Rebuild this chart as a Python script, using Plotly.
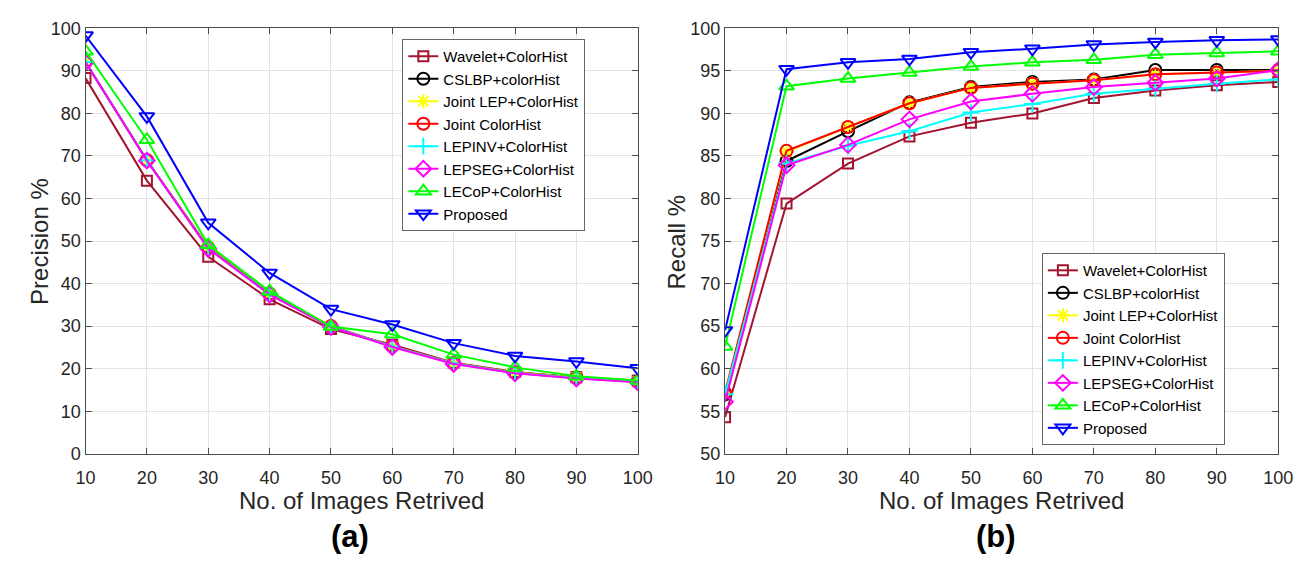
import plotly.graph_objects as go

# Number of retrieved images
n_images = [10, 20, 30, 40, 50, 60, 70, 80, 90, 100]

# Method names
methods = [
    "Wavelet+ColorHist",
    "CSLBP+colorHist",
    "Joint LEP+ColorHist",
    "Joint ColorHist",
    "LEPINV+ColorHist",
    "LEPSEG+ColorHist",
    "LECoP+ColorHist",
    "Proposed",
]

# Precision (%) per method
prec_wavelet = [88.3, 64.2, 46.3, 36.3, 29.3, 25.6, 21.4, 19.2, 18.0, 17.2]
prec_cslbp = [92.1, 69.0, 48.4, 37.6, 29.9, 25.3, 21.3, 19.1, 17.9, 17.0]
prec_jointlep = [92.1, 69.0, 48.5, 37.6, 30.0, 25.3, 21.3, 19.1, 17.9, 17.0]
prec_jointch = [92.1, 69.0, 48.5, 37.6, 30.0, 25.3, 21.3, 19.0, 17.8, 16.9]
prec_lepinv = [92.1, 69.0, 48.3, 37.5, 29.9, 25.2, 21.2, 19.0, 17.8, 16.9]
prec_lepseg = [92.0, 68.9, 48.2, 37.4, 29.8, 25.1, 21.1, 18.9, 17.7, 16.8]
prec_lecop = [94.6, 73.8, 49.1, 38.2, 29.9, 28.1, 23.3, 20.3, 18.2, 17.2]
prec_proposed = [98.3, 79.3, 54.3, 42.5, 34.0, 30.4, 26.0, 23.0, 21.7, 20.1]

# Recall (%) per method
rec_wavelet = [54.3, 79.4, 84.1, 87.3, 88.9, 90.0, 91.8, 92.7, 93.3, 93.7]
rec_cslbp = [57.0, 84.4, 87.9, 91.3, 93.1, 93.7, 94.0, 95.1, 95.1, 95.1]
rec_jointlep = [57.2, 85.5, 88.4, 91.2, 93.0, 93.5, 93.9, 94.6, 94.8, 95.0]
rec_jointch = [57.2, 85.6, 88.4, 91.2, 93.0, 93.5, 93.9, 94.6, 94.8, 95.0]
rec_lepinv = [57.0, 84.1, 86.2, 87.9, 90.1, 91.1, 92.3, 92.9, 93.5, 94.0]
rec_lepseg = [56.1, 83.9, 86.3, 89.3, 91.4, 92.3, 93.1, 93.6, 94.1, 95.1]
rec_lecop = [62.6, 93.2, 94.1, 94.8, 95.5, 96.0, 96.3, 96.9, 97.1, 97.3]
rec_proposed = [64.5, 95.2, 96.0, 96.4, 97.2, 97.6, 98.1, 98.4, 98.6, 98.7]

precision = [prec_wavelet, prec_cslbp, prec_jointlep, prec_jointch,
             prec_lepinv, prec_lepseg, prec_lecop, prec_proposed]
recall = [rec_wavelet, rec_cslbp, rec_jointlep, rec_jointch,
          rec_lepinv, rec_lepseg, rec_lecop, rec_proposed]

x_ticks = [10, 20, 30, 40, 50, 60, 70, 80, 90, 100]
prec_ticks = [0, 10, 20, 30, 40, 50, 60, 70, 80, 90, 100]
rec_ticks = [50, 55, 60, 65, 70, 75, 80, 85, 90, 95, 100]

# MATLAB-style line specs
colors = ["#A2142F", "#000000", "#FFFF00", "#FF0000",
          "#00FFFF", "#FF00FF", "#00FF00", "#0000FF"]
symbols = ["square-open", "circle-open", "asterisk-open", "circle-open",
           "cross-thin-open", "diamond-open", "triangle-up-open", "triangle-down-open"]
sizes = [10, 12, 12, 12, 12, 12, 13, 13]

FONT = "Liberation Sans, Arial, Helvetica, sans-serif"
W, H = 1307, 566

fig = go.Figure()

for i, name in enumerate(methods):
    for data, xa, ya, lg in ((precision[i], "x", "y", "legend"),
                             (recall[i], "x2", "y2", "legend2")):
        fig.add_trace(go.Scatter(
            x=n_images, y=data, name=name, xaxis=xa, yaxis=ya, legend=lg,
            mode="lines+markers",
            line=dict(color=colors[i], width=2),
            marker=dict(symbol=symbols[i], size=sizes[i], color=colors[i],
                        line=dict(color=colors[i], width=2)),
        ))


def px_x(p):
    return p / W


def px_y(p):
    return 1 - p / H


axis_common = dict(
    showgrid=True, gridcolor="#E3E3E3", gridwidth=1,
    showline=True, linecolor="#4D4D4D", linewidth=1.3, mirror="ticks",
    ticks="inside", ticklen=6, tickcolor="#4D4D4D", tickwidth=1,
    tickfont=dict(family=FONT, size=18, color="#262626"),
    zeroline=False,
)
x_common = dict(axis_common, ticklabelstandoff=8)

legend_common = dict(
    xanchor="left", yanchor="top",
    bgcolor="white", bordercolor="#666666", borderwidth=1,
    font=dict(family=FONT, size=15, color="#000000"),
    tracegroupgap=0, itemwidth=30,
)

fig.update_layout(
    width=W, height=H,
    margin=dict(l=0, r=0, t=0, b=0),
    paper_bgcolor="white", plot_bgcolor="white",
    showlegend=True,
    xaxis=dict(domain=[px_x(77), px_x(640)], range=[10, 100], tickvals=x_ticks,
               anchor="y", **x_common),
    yaxis=dict(domain=[px_y(460), px_y(19)], range=[0, 100], tickvals=prec_ticks,
               anchor="x", **axis_common),
    xaxis2=dict(domain=[px_x(729), px_x(1293)], range=[10, 100], tickvals=x_ticks,
                anchor="y2", **x_common),
    yaxis2=dict(domain=[px_y(460), px_y(19)], range=[50, 100], tickvals=rec_ticks,
                anchor="x2", **axis_common),
    legend=dict(x=px_x(400), y=px_y(30), **legend_common),
    legend2=dict(x=px_x(1052), y=px_y(252), **legend_common),
)

annots = [
    dict(text="Precision %", x=px_x(30), y=px_y(240), textangle=-90, size=24, bold=False),
    dict(text="Recall %", x=px_x(680), y=px_y(240), textangle=-90, size=24, bold=False),
    dict(text="No. of Images Retrived", x=px_x(358), y=px_y(508), textangle=0, size=24, bold=False),
    dict(text="No. of Images Retrived", x=px_x(1011), y=px_y(508), textangle=0, size=24, bold=False),
    dict(text="<b>(a)</b>", x=px_x(347), y=px_y(546), textangle=0, size=31, bold=True),
    dict(text="<b>(b)</b>", x=px_x(1005), y=px_y(546), textangle=0, size=31, bold=True),
]
for a in annots:
    fig.add_annotation(
        text=a["text"], x=a["x"], y=a["y"], xref="paper", yref="paper",
        xanchor="center", yanchor="middle", showarrow=False, textangle=a["textangle"],
        font=dict(family=FONT, size=a["size"], color="#262626" if not a["bold"] else "#000000"),
    )

fig.write_html("out.html")
